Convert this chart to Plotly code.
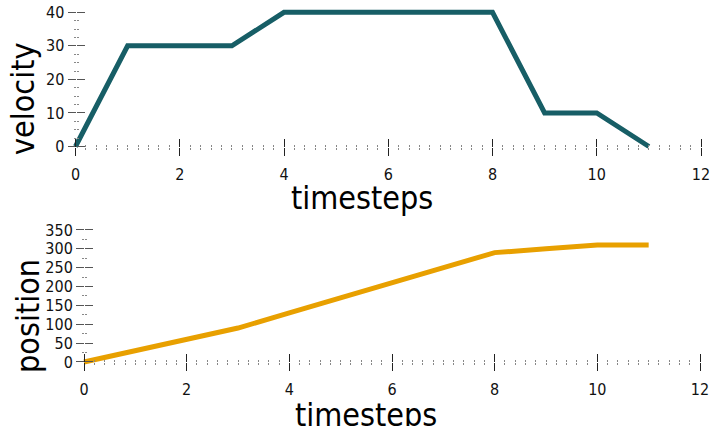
import plotly.graph_objects as go

# ---- data -------------------------------------------------------------
timesteps = [0, 1, 2, 3, 4, 5, 6, 7, 8, 9, 10, 11]
velocity = [0, 30, 30, 30, 40, 40, 40, 40, 40, 10, 10, 0]
position = [0, 30, 60, 90, 130, 170, 210, 250, 290, 300, 310, 310]

x_ticks = [0, 2, 4, 6, 8, 10, 12]
vel_ticks = [0, 10, 20, 30, 40]
pos_ticks = [0, 50, 100, 150, 200, 250, 300, 350]

# ---- layout helpers ---------------------------------------------------
W, H = 715, 426
FONT = "DejaVu Sans Condensed"
TEAL = "#175e66"
ORANGE = "#e8a000"
MAJOR = "#222222"
MAJOR_Y = "#555555"
MINOR = "#888888"


def x_domain(px0, px1, v0, v1, lo, hi):
    """Domain (paper units) so that value v0 sits at pixel px0 and v1 at px1."""
    scale = (px1 - px0) / (v1 - v0)
    left = px0 + (lo - v0) * scale
    right = px0 + (hi - v0) * scale
    return [left / W, right / W], px0 / W


def y_domain(py0, py1, v0, v1, lo, hi):
    scale = (py0 - py1) / (v1 - v0)
    bottom = py0 + (v0 - lo) * scale
    top = py0 - (hi - v0) * scale
    return [1 - bottom / H, 1 - top / H], 1 - py0 / H


xr1 = [-0.15, 12.15]
yr1 = [-1.2, 41.2]
xr2 = [-0.15, 12.15]
yr2 = [-10, 360]

xd1, xpos1 = x_domain(75.5, 701, 0, 12, *xr1)
yd1, ypos1 = y_domain(146.5, 12.3, 0, 40, *yr1)
xd2, xpos2 = x_domain(84, 700, 0, 12, *xr2)
yd2, ypos2 = y_domain(362, 230, 0, 350, *yr2)

fig = go.Figure()
# empty traces so the twin (tick-only) axes get drawn
fig.add_trace(go.Scatter(x=[], y=[], xaxis="x3", yaxis="y3", showlegend=False,
                         hoverinfo="skip"))
fig.add_trace(go.Scatter(x=[], y=[], xaxis="x4", yaxis="y4", showlegend=False,
                         hoverinfo="skip"))
fig.add_trace(go.Scatter(x=timesteps, y=velocity, mode="lines",
                         line=dict(color=TEAL, width=5), xaxis="x", yaxis="y",
                         showlegend=False))
fig.add_trace(go.Scatter(x=timesteps, y=position, mode="lines",
                         line=dict(color=ORANGE, width=5), xaxis="x2", yaxis="y2",
                         showlegend=False))

tick_font = dict(family=FONT, size=16, color="#111111")
title_font = dict(family=FONT, size=32, color="#000000")


def base_axis(rng, domain, pos, tickvals, minor_dtick, side, show_labels,
              major_color=MAJOR):
    return dict(
        range=rng, domain=domain, anchor="free", position=pos, side=side,
        automargin=False, ticklabeloverflow="allow",
        showline=False, showgrid=False, zeroline=False,
        tickmode="array", tickvals=tickvals,
        ticks="outside", ticklen=8, tickwidth=1.4, tickcolor=major_color,
        minor=dict(dtick=minor_dtick, ticks="outside", ticklen=2,
                   tickwidth=1.2, tickcolor=MINOR, showgrid=False),
        showticklabels=show_labels, tickfont=tick_font,
        fixedrange=True,
    )


# top panel: velocity (the twin axes draw the other half of each tick)
ax = base_axis(xr1, xd1, ypos1, x_ticks, 0.2, "bottom", True)
ax.update(ticklabelstandoff=5)
fig.layout.xaxis = ax
fig.layout.xaxis3 = base_axis(xr1, xd1, ypos1, x_ticks, 0.2, "top", False)
fig.layout.xaxis3.overlaying = "x"

fig.layout.yaxis = base_axis(yr1, yd1, xpos1, vel_ticks, 2.5, "left", True, MAJOR_Y)
fig.layout.yaxis3 = base_axis(yr1, yd1, xpos1, vel_ticks, 2.5, "right", False, MAJOR_Y)
fig.layout.yaxis3.overlaying = "y"

# bottom panel: position
ax2 = base_axis(xr2, xd2, ypos2, x_ticks, 0.2, "bottom", True)
ax2.update(ticklabelstandoff=5)
fig.layout.xaxis2 = ax2
fig.layout.xaxis4 = base_axis(xr2, xd2, ypos2, x_ticks, 0.2, "top", False)
fig.layout.xaxis4.overlaying = "x2"

fig.layout.yaxis2 = base_axis(yr2, yd2, xpos2, pos_ticks, 25, "left", True, MAJOR_Y)
fig.layout.yaxis4 = base_axis(yr2, yd2, xpos2, pos_ticks, 25, "right", False, MAJOR_Y)
fig.layout.yaxis4.overlaying = "y2"

# axis titles
titles = [
    dict(text="timesteps", x=362 / W, y=1 - 198 / H, textangle=0),
    dict(text="timesteps", x=366 / W, y=1 - 415 / H, textangle=0),
    dict(text="velocity", x=23 / W, y=1 - 99 / H, textangle=-90),
    dict(text="position", x=28 / W, y=1 - 316 / H, textangle=-90),
]
for t in titles:
    fig.add_annotation(xref="paper", yref="paper", showarrow=False,
                       xanchor="center", yanchor="middle", font=title_font, **t)

fig.update_layout(
    width=W, height=H,
    margin=dict(l=0, r=0, t=0, b=0),
    paper_bgcolor="white", plot_bgcolor="white",
    font=dict(family=FONT),
)

fig.write_html("out.html", config=dict(displayModeBar=False))
